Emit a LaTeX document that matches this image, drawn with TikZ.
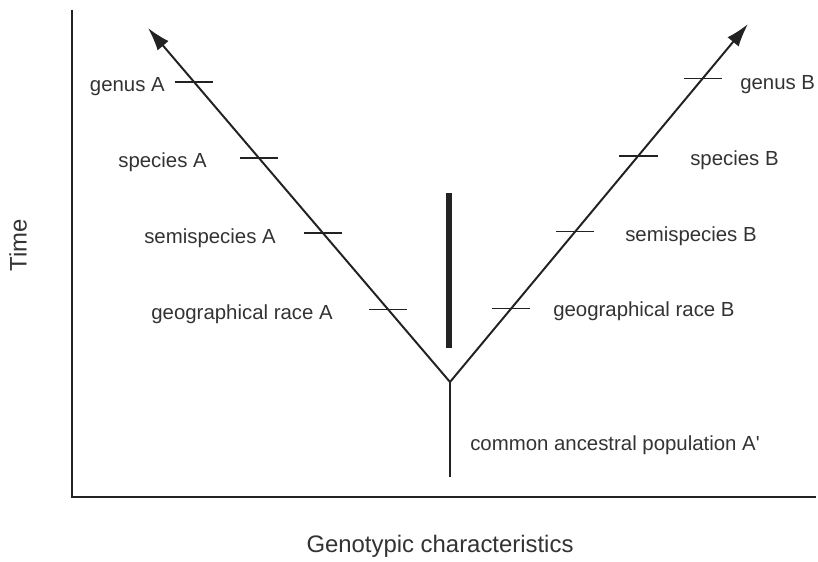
\documentclass[tikz,border=0pt]{standalone}
\usepackage{fontspec}
\setmainfont{Liberation Sans}[Ligatures=TeXOff]
\usepackage{xcolor}
\usetikzlibrary{arrows.meta,calc,positioning}
\definecolor{ink}{HTML}{222222}
\definecolor{textgray}{HTML}{333333}

\begin{document}
\begin{tikzpicture}[
    font=\fontsize{14.5}{16}\selectfont,
    axis/.style={draw=ink, line width=1.0pt},
    lineage/.style={-{Latex[length=5.8mm,width=3.6mm]}, draw=ink, line width=1.4pt},
    stem/.style={draw=ink, line width=1.2pt},
    tickmark/.style={draw=ink, line width=1.2pt},
    barrier/.style={draw=ink, line width=3.6pt},
    rank/.style={text=textgray, inner sep=0pt},
    axislabel/.style={text=textgray, font=\fontsize{17}{19}\selectfont, inner sep=0pt}
]

\useasboundingbox (0,0) rectangle (20.45,14.025);

% Axes.
\coordinate (origin) at (1.8,1.6);
\coordinate (ytop) at (1.8,13.775);
\coordinate (xend) at (20.4,1.6);
\draw[axis] (ytop) -- (origin) -- (xend);

\node[axislabel, rotate=90] (timeLabel) at (0.45,7.9) {Time};
\node[axislabel] (genoLabel) at (11.0,0.375) {Genotypic characteristics};

% Lineages diverging from the ancestral population.
\coordinate (root) at (11.25,4.475);
\coordinate (tipA) at (3.7,13.325);
\coordinate (tipB) at (18.7,13.425);
\coordinate (stemEnd) at (11.25,2.1);

\draw[stem] (stemEnd) -- (root);
\draw[lineage] (root) -- (tipA);
\draw[lineage] (root) -- (tipB);

% Isolating barrier between the two branches.
\coordinate (barTop) at (11.225,9.2);
\coordinate (barBot) at (11.225,5.325);
\draw[barrier] (barTop) -- (barBot);

% Tick marks for the taxonomic ranks.
\foreach \p/\name in {0.205/race, 0.42/semi, 0.632/species, 0.848/genus}{
    \path (root) -- (tipA) coordinate[pos=\p] (\name A);
    \path (root) -- (tipB) coordinate[pos=\p] (\name B);
    \draw[tickmark] ([xshift=-0.48cm]\name A) -- ([xshift=0.48cm]\name A);
    \draw[tickmark] ([xshift=-0.48cm]\name B) -- ([xshift=0.48cm]\name B);
}

% Rank labels.
\node[rank, anchor=east] (genusLabelA) at (4.125,11.85) {genus A};
\node[rank, anchor=east] (speciesLabelA) at (5.175,9.975) {species A};
\node[rank, anchor=east] (semiLabelA) at (6.9,8.075) {semispecies A};
\node[rank, anchor=east] (raceLabelA) at (8.325,6.175) {geographical race A};

\node[rank, anchor=west] (genusLabelB) at (18.5,11.9) {genus B};
\node[rank, anchor=west] (speciesLabelB) at (17.25,10.025) {species B};
\node[rank, anchor=west] (semiLabelB) at (15.625,8.125) {semispecies B};
\node[rank, anchor=west] (raceLabelB) at (13.825,6.25) {geographical race B};

\node[rank, anchor=west] (ancestorLabel) at (11.75,2.9) {common ancestral population A'};

\end{tikzpicture}
\end{document}
